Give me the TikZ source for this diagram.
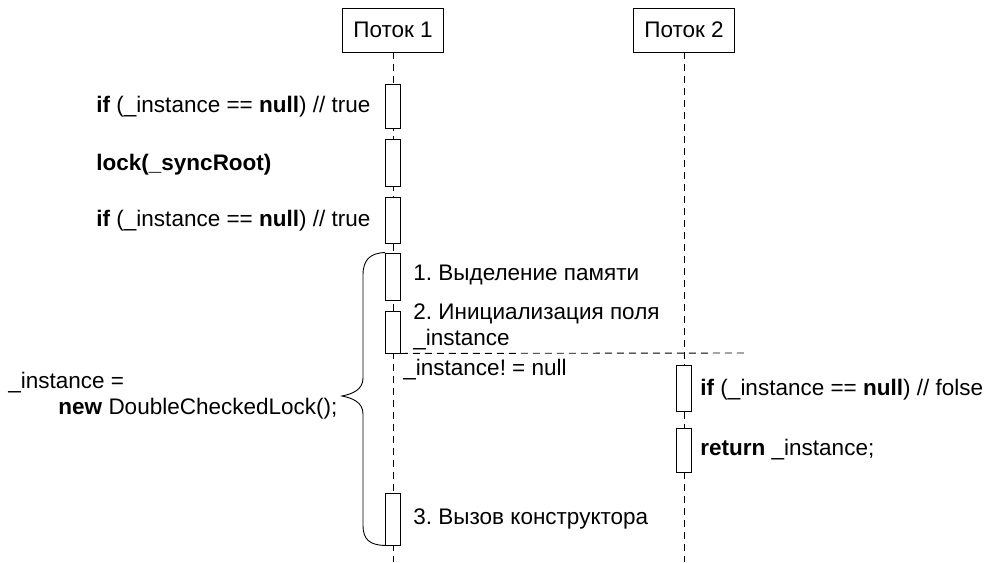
\documentclass[tikz,border=0pt]{standalone}
\usepackage{fontspec}
\setmainfont{Liberation Sans}
\frenchspacing
\begin{document}
\begin{tikzpicture}[x=1pt,y=-1pt,line width=0.9pt,
  font=\fontsize{22.5}{26}\selectfont,
  head/.style={draw,minimum width=101pt,minimum height=44pt,inner sep=0pt},
  act/.style={draw,fill=white,minimum width=15pt,inner sep=0pt},
  life/.style={dash pattern=on 7pt off 5pt},
  txt/.style={anchor=west,inner sep=0pt,align=left}]
  \useasboundingbox (0,0) rectangle (998,562);
  % lifelines
  \node[head] (p1) at (393,30) {Поток 1};
  \node[head] (p2) at (684,30) {Поток 2};
  \coordinate (e1) at (393,562);
  \coordinate (e2) at (684,562);
  \draw[life] (p1) -- (e1);
  \draw[life] (p2) -- (e2);
  % activations, thread 1
  \node[act,minimum height=44pt] (a1) at (393,106) {};
  \node[act,minimum height=47pt] (a2) at (393,162.5) {};
  \node[act,minimum height=46pt] (a3) at (393,220) {};
  \node[act,minimum height=47pt] (a4) at (393,276.5) {};
  \node[act,minimum height=42pt] (a5) at (393,332) {};
  \node[act,minimum height=52pt] (a6) at (393,519) {};
  % activations, thread 2
  \node[act,minimum height=46pt] (b1) at (684,388) {};
  \node[act,minimum height=44pt] (b2) at (684,450) {};
  \coordinate (h) at (745,353);
  \draw[life] (a5.south east) -- (h);
  % texts
  \node[txt] (t1) at (96,107) {\textbf{if} (\_instance == \textbf{null}) // true};
  \node[txt] (t2) at (96,165) {\textbf{lock(\_syncRoot)}};
  \node[txt] (t3) at (96,221) {\textbf{if} (\_instance == \textbf{null}) // true};
  \node[txt] (s1) at (413,275) {1. Выделение памяти};
  \node[txt] (s2) at (413,327) {2. Инициализация поля\\\_instance};
  \node[txt] (s0) at (403,370) {\_instance! = null};
  \node[txt] (s3) at (413,519) {3. Вызов конструктора};
  \node[txt] (r1) at (700,390) {\textbf{if} (\_instance == \textbf{null}) // folse};
  \node[txt] (r2) at (700,450) {\textbf{return} \_instance;};
  \node[txt] (lhs) at (8,396) {\_instance =\\\hspace*{50pt}\textbf{new} DoubleCheckedLock();};
  % brace
  \draw (a4.north west) .. controls (370,253) and (363,260) .. (363,275)
    -- (363,378) .. controls (363,390) and (352,394) .. (342,396)
    .. controls (352,398) and (363,402) .. (363,414)
    -- (363,525) .. controls (363,540) and (370,545) .. (a6.south west);
\end{tikzpicture}
\end{document}
